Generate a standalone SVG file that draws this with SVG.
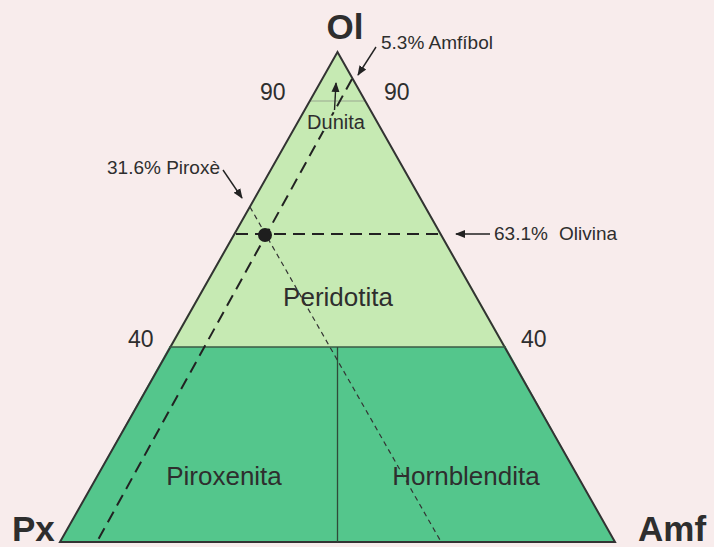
<svg xmlns="http://www.w3.org/2000/svg" width="714" height="547" viewBox="0 0 714 547">
<style>
.t{font-family:"Liberation Sans",Arial,sans-serif;fill:#2e2e2e}
.big{font-size:35px;font-weight:bold}
.reg{font-size:26px}
.num{font-size:23px}
.lab{font-size:19px}
.dash{fill:none;stroke:#222;stroke-width:2;stroke-dasharray:12 7}
.fine{fill:none;stroke:#333;stroke-width:1.2;stroke-dasharray:5 4}
.arr{fill:none;stroke:#222;stroke-width:1.4;marker-end:url(#ah)}
</style>
<defs>
<marker id="ah" viewBox="0 0 10 10" refX="9" refY="5" markerWidth="10" markerHeight="10" markerUnits="userSpaceOnUse" orient="auto">
<path d="M0,1 L10,5 L0,9 Z" fill="#222"/>
</marker>
</defs>
<rect width="714" height="547" fill="#f8ecec"/>
<g id="peridotita">
<polygon points="337.5,52 506,347 169,347" fill="#c6eab3"/>
<line x1="309" y1="101" x2="366" y2="101" stroke="#9aa890" stroke-width="1"/>
<text class="t reg" x="338" y="306" text-anchor="middle">Peridotita</text>
</g>
<g id="piroxenita">
<polygon points="169,347 337.5,347 337.5,542 60,542" fill="#54c68c"/>
<text class="t reg" x="224" y="485" text-anchor="middle">Piroxenita</text>
</g>
<g id="hornblendita">
<polygon points="337.5,347 506,347 615,542 337.5,542" fill="#54c68c"/>
<text class="t reg" x="466" y="485" text-anchor="middle">Hornblendita</text>
</g>
<g id="outline">
<polygon points="337.5,52 615,542 60,542" fill="none" stroke="#333" stroke-width="2"/>
<line x1="169" y1="347" x2="506" y2="347" stroke="#3a5a45" stroke-width="1.5"/>
<line x1="337.5" y1="347" x2="337.5" y2="542" stroke="#2f4a38" stroke-width="1.3"/>
</g>
<g id="connectors">
<line class="dash" x1="352" y1="79" x2="98" y2="540"/>
<line class="fine" x1="250" y1="207" x2="440" y2="540"/>
<line class="dash" x1="236" y1="234" x2="442" y2="234"/>
<line class="arr" x1="334.5" y1="110" x2="336" y2="83"/>
<line class="arr" x1="376" y1="47" x2="358" y2="75"/>
<line class="arr" x1="223" y1="170" x2="242" y2="198"/>
<line class="arr" x1="490" y1="234" x2="456" y2="234"/>
</g>
<g id="dunita">
<text class="t lab" x="336" y="129" text-anchor="middle" style="font-size:20px;stroke:#c6eab3;stroke-width:5px;paint-order:stroke;stroke-linejoin:round">Dunita</text>
</g>
<g id="point">
<circle cx="265" cy="235" r="7" fill="#1e1e1e"/>
</g>
<g id="labels">
<text class="t big" x="345" y="39" text-anchor="middle">Ol</text>
<text class="t big" x="12" y="541">Px</text>
<text class="t big" x="638" y="541">Amf</text>
<text class="t num" x="260" y="100">90</text>
<text class="t num" x="384" y="100">90</text>
<text class="t num" x="128" y="347">40</text>
<text class="t num" x="521" y="347">40</text>
<text class="t lab" x="381" y="49">5.3% Amfíbol</text>
<text class="t lab" x="107" y="174">31.6% Piroxè</text>
<text class="t lab" x="494" y="240">63.1%</text>
<text class="t lab" x="559" y="240">Olivina</text>
</g>
</svg>
